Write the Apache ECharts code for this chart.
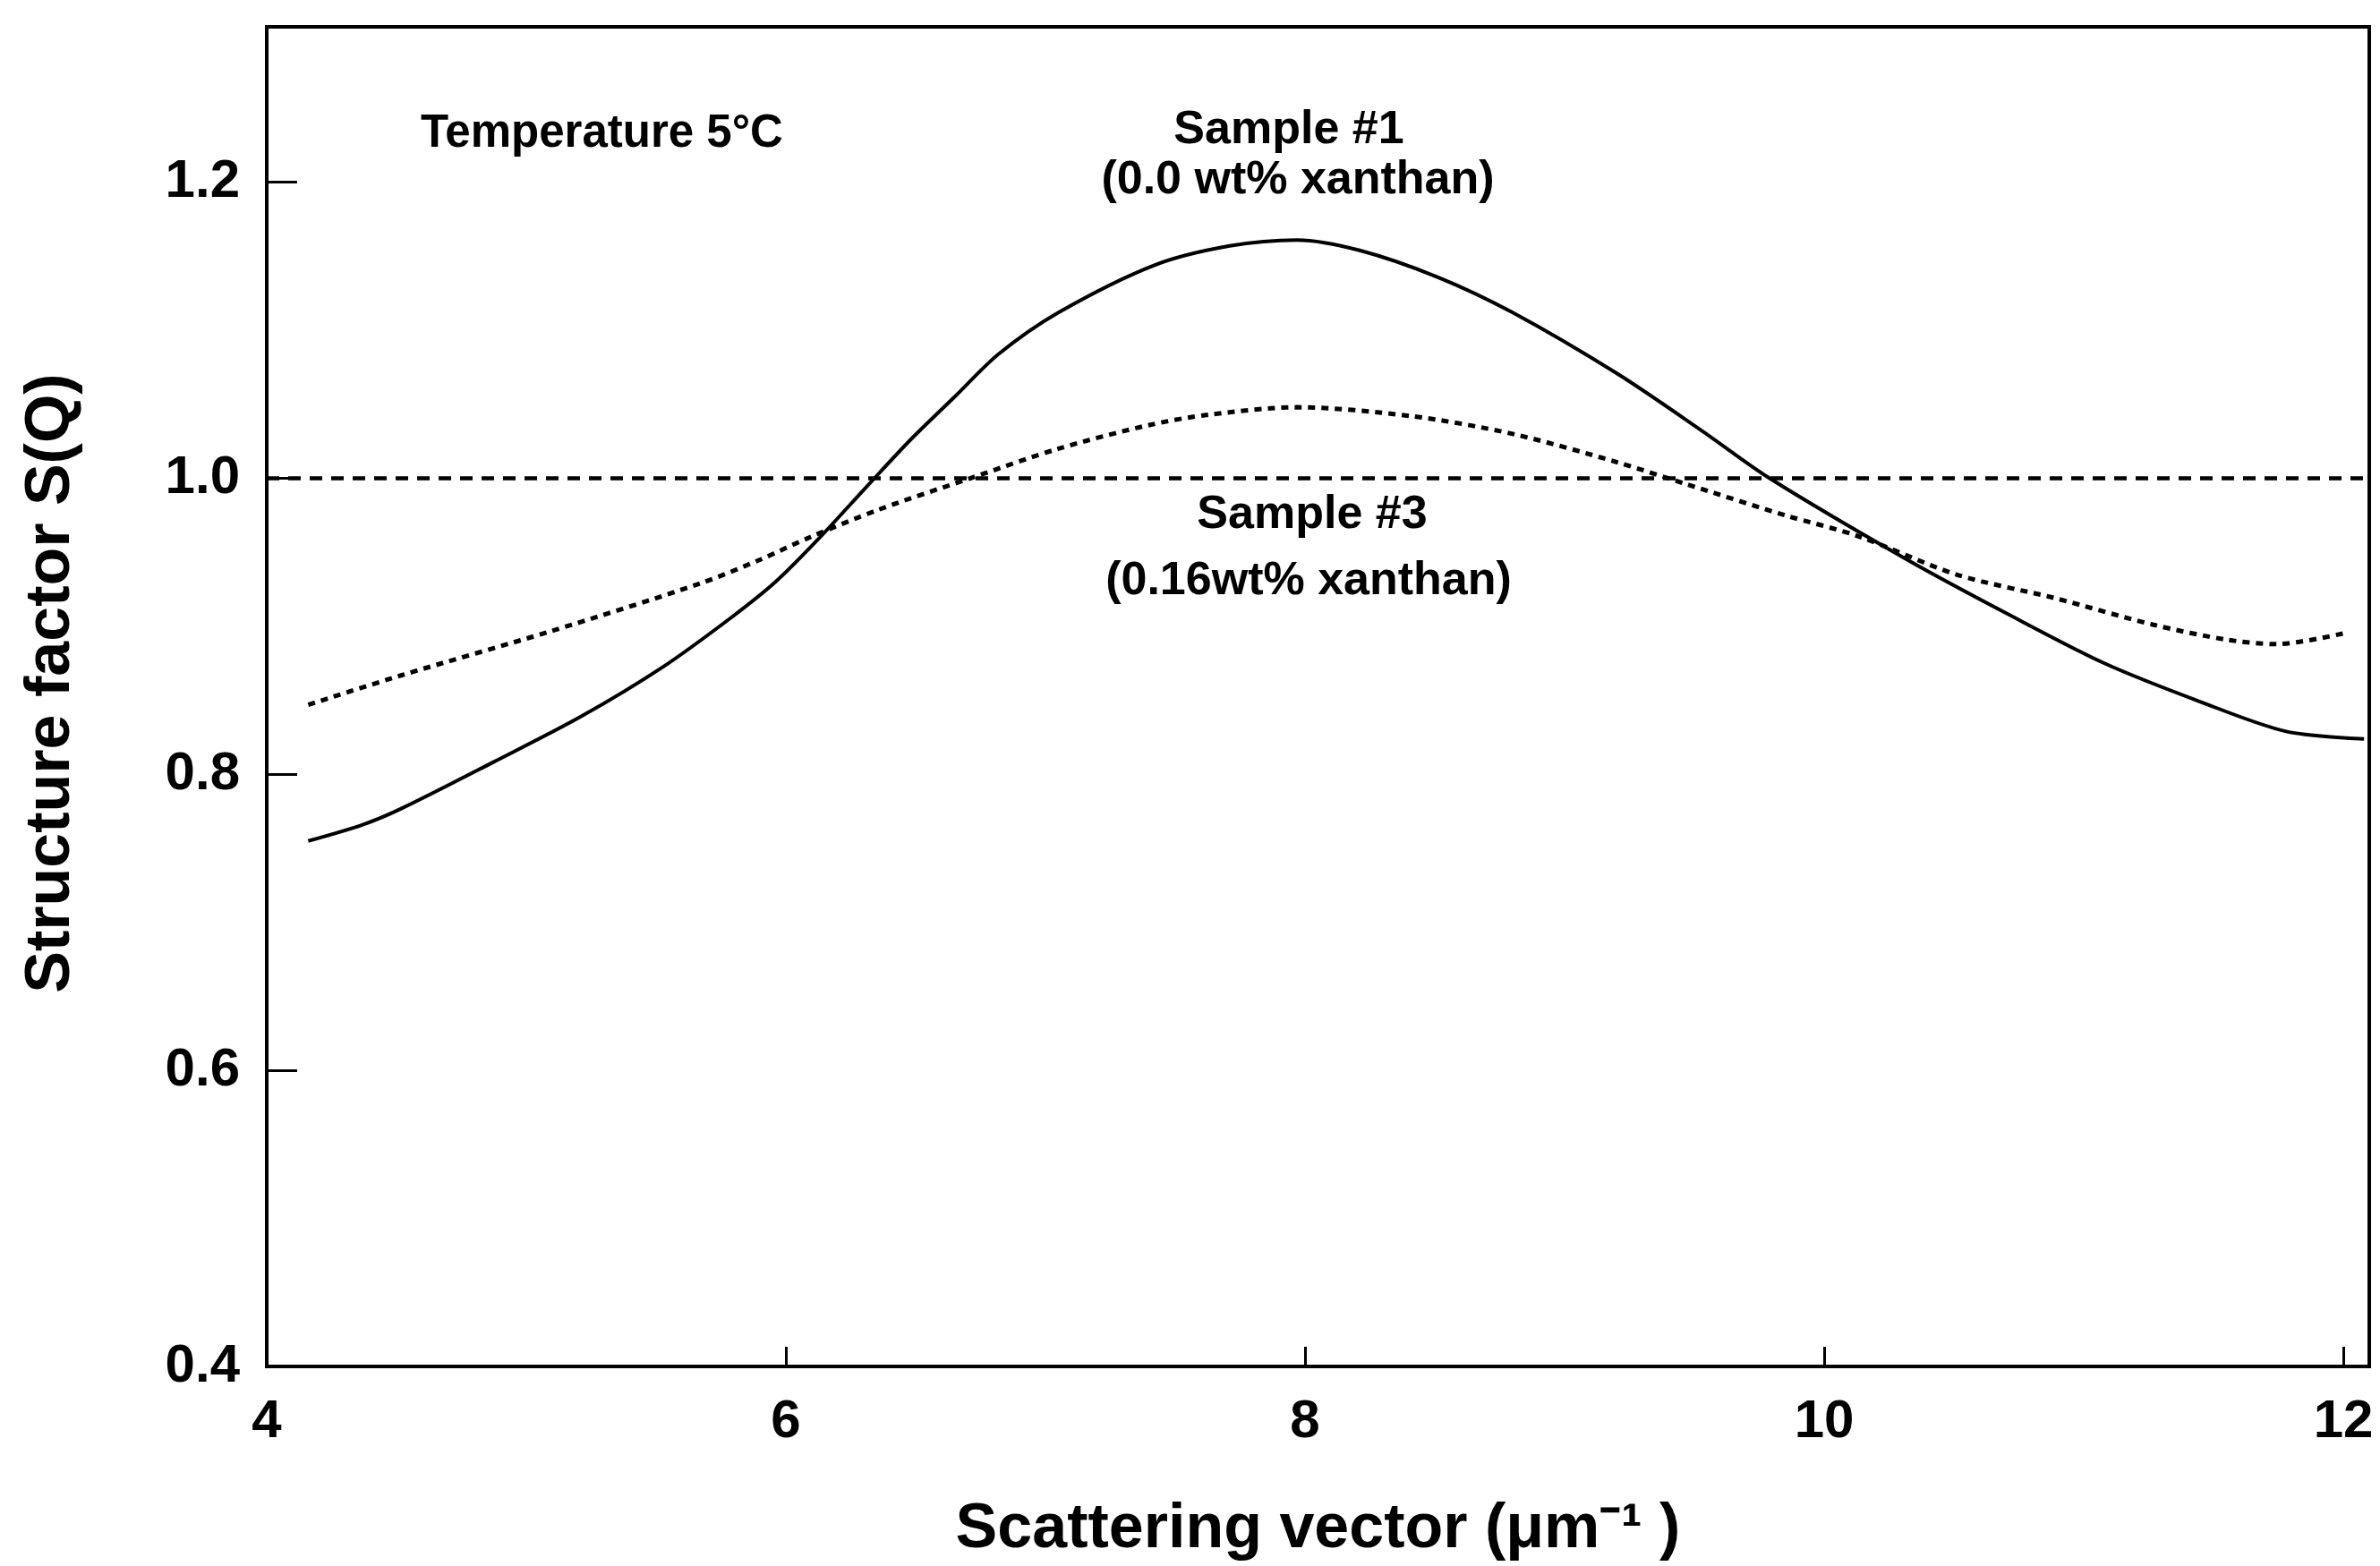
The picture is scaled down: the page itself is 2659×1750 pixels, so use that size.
<!DOCTYPE html>
<html>
<head>
<meta charset="utf-8">
<title>Structure factor S(Q)</title>
<script src="https://cdn.jsdelivr.net/npm/echarts@6/dist/echarts.min.js"></script>
<style>
  html, body { margin: 0; padding: 0; background: #fff; }
  #main { width: 2659px; height: 1750px; }
</style>
</head>
<body>
<div id="main"></div>
<script>
// Sample #1 (0.0 wt% xanthan), solid
var q1 = [4.16, 4.37, 4.52, 4.87, 5.21, 5.53, 5.79, 5.96, 6.12, 6.32, 6.48, 6.65, 6.82, 7.05, 7.42, 7.71, 7.97,
          8.21, 8.51, 8.80, 9.20, 9.53, 9.79, 10.32, 10.70, 11.08, 11.45, 11.78, 12.08];
var s1 = [0.755, 0.766, 0.777, 0.808, 0.839, 0.873, 0.906, 0.930, 0.958, 0.996, 1.026, 1.055, 1.084, 1.112, 1.144, 1.157, 1.161,
          1.154, 1.136, 1.112, 1.071, 1.032, 1.000, 0.945, 0.909, 0.875, 0.849, 0.829, 0.824];
// Sample #3 (0.16wt% xanthan), dotted
var q3 = [4.16, 4.52, 5.10, 5.67, 5.90, 6.09, 6.36, 6.71, 7.05, 7.40, 7.63, 7.97, 8.41, 8.80, 9.20,
          9.47, 9.85, 10.13, 10.51, 10.89, 11.27, 11.55, 11.74, 12.02];
var s3 = [0.847, 0.867, 0.897, 0.929, 0.945, 0.960, 0.979, 1.000, 1.020, 1.036, 1.043, 1.048, 1.042, 1.030, 1.011,
          0.996, 0.975, 0.961, 0.935, 0.919, 0.901, 0.891, 0.888, 0.896];
// reference line S(Q)=1
var refQ = [4, 12.1];
var refS = [1.0, 1.0];

var xTicks = [4, 6, 8, 10, 12];
var yTicks = [0.4, 0.6, 0.8, 1.0, 1.2];

function pairs(xs, ys) {
  var out = [];
  for (var i = 0; i < xs.length; i++) out.push([xs[i], ys[i]]);
  return out;
}

var font = '"Liberation Sans", Arial, sans-serif';

var chart = echarts.init(document.getElementById('main'));
chart.setOption({
  backgroundColor: '#fff',
  animation: false,
  grid: {
    left: 298,
    right: 12,
    top: 30,
    bottom: 220,
    show: true,
    borderColor: '#000',
    borderWidth: 4,
    backgroundColor: 'transparent'
  },
  xAxis: {
    type: 'value',
    min: 4,
    max: 12.1,
    name: 'Scattering vector (μm⁻¹ )',
    nameLocation: 'middle',
    nameGap: 148,
    nameTextStyle: { fontFamily: font, fontWeight: 'bold', fontSize: 70, color: '#000' },
    axisLine: { lineStyle: { color: '#000', width: 4 } },
    axisTick: { inside: true, length: 22, customValues: xTicks, lineStyle: { color: '#000', width: 3 } },
    axisLabel: {
      customValues: xTicks,
      margin: 32,
      fontFamily: font, fontWeight: 'bold', fontSize: 60, color: '#000'
    },
    splitLine: { show: false }
  },
  yAxis: {
    type: 'value',
    min: 0.4,
    max: 1.305,
    name: 'Structure factor S(Q)',
    nameLocation: 'middle',
    nameGap: 205,
    nameTextStyle: { fontFamily: font, fontWeight: 'bold', fontSize: 70, color: '#000', padding: [0, 0, 0, 30] },
    axisLine: { lineStyle: { color: '#000', width: 4 } },
    axisTick: { inside: true, length: 34, customValues: yTicks, lineStyle: { color: '#000', width: 3 } },
    axisLabel: {
      customValues: yTicks,
      margin: 30,
      formatter: function (v) { return v.toFixed(1); },
      fontFamily: font, fontWeight: 'bold', fontSize: 60, color: '#000'
    },
    splitLine: { show: false }
  },
  series: [
    {
      name: 'Sample #1',
      type: 'line',
      data: pairs(q1, s1),
      smooth: 0.3,
      showSymbol: false,
      lineStyle: { color: '#000', width: 4 }
    },
    {
      name: 'Sample #3',
      type: 'line',
      data: pairs(q3, s3),
      smooth: 0.3,
      showSymbol: false,
      lineStyle: { color: '#000', width: 5, type: [8, 7] }
    },
    {
      name: 'S=1',
      type: 'line',
      data: pairs(refQ, refS),
      showSymbol: false,
      lineStyle: { color: '#000', width: 4.5, type: [14, 10] }
    }
  ],
  graphic: [
    { type: 'text', left: 470, top: 124, style: { text: 'Temperature 5°C', font: 'bold 51px ' + font, fill: '#000' } },
    { type: 'text', x: 1440, y: 146, style: { text: 'Sample #1', font: 'bold 52px ' + font, fill: '#000', align: 'center', verticalAlign: 'middle' } },
    { type: 'text', x: 1450, y: 202, style: { text: '(0.0 wt% xanthan)', font: 'bold 52px ' + font, fill: '#000', align: 'center', verticalAlign: 'middle' } },
    { type: 'text', x: 1466, y: 576, style: { text: 'Sample #3', font: 'bold 52px ' + font, fill: '#000', align: 'center', verticalAlign: 'middle' } },
    { type: 'text', x: 1462, y: 650, style: { text: '(0.16wt% xanthan)', font: 'bold 52px ' + font, fill: '#000', align: 'center', verticalAlign: 'middle' } }
  ]
});
</script>
</body>
</html>
